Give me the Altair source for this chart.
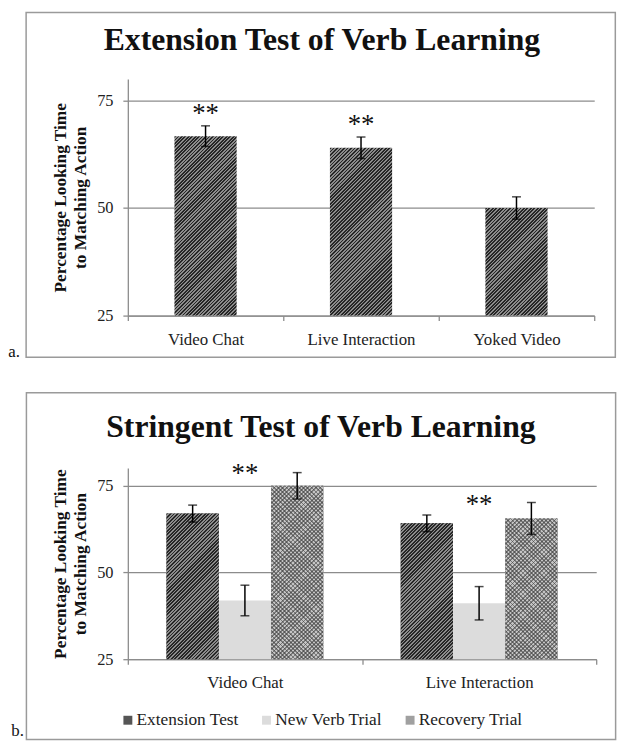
import math
import altair as alt
import pandas as pd

FONT = "Liberation Serif"
GRID = "#8c8c8c"
FRAME = "#9a9a9a"

# ---------------- data ----------------
a_categories = ["Video Chat", "Live Interaction", "Yoked Video"]
a_means = [66.7, 64.0, 50.0]
a_err = [2.4, 2.5, 2.6]
a_stars = ["**", "**", ""]
a_star_pos = [73.2, 70.6, 50.0]

b_categories = ["Video Chat", "Live Interaction"]
b_trials = ["Extension Test", "New Verb Trial", "Recovery Trial"]
b_ext_means = [66.9, 64.1]
b_ext_err = [2.45, 2.4]
b_new_means = [41.9, 41.1]
b_new_err = [4.4, 4.8]
b_rec_means = [74.9, 65.5]
b_rec_err = [3.8, 4.6]
b_stars = ["**", "**"]
b_star_pos = [80.0, 71.1]

y_ticks = [25, 50, 75]
y_domain = [25, 80]
trial_colors = ["#555555", "#dcdcdc", "#a0a0a0"]

title_a = "Extension Test of Verb Learning"
title_b = "Stringent Test of Verb Learning"
y_title = ["Percentage Looking Time", "to Matching Action"]

# ---------------- layout constants ----------------
WA, HA = 471, 239
WB, HB = 473, 193
BAND_A = 0.4
OFFSET_PAD = 0.74

# ---------------- tables ----------------
df_a = pd.DataFrame({"cond": a_categories, "mean": a_means, "err": a_err})
df_a["lo"] = df_a["mean"] - df_a["err"]
df_a["hi"] = df_a["mean"] + df_a["err"]
stars_a = pd.DataFrame({"cond": a_categories, "star": a_stars, "pos": a_star_pos})
stars_a = stars_a[stars_a["star"] != ""]

rows = []
for trial, means, errs in zip(b_trials, [b_ext_means, b_new_means, b_rec_means],
                              [b_ext_err, b_new_err, b_rec_err]):
    for c, m, e in zip(b_categories, means, errs):
        rows.append({"cond": c, "trial": trial, "mean": m, "err": e, "lo": m - e, "hi": m + e})
df_b = pd.DataFrame(rows)
stars_b = pd.DataFrame({"cond": b_categories, "trial": [b_trials[1]] * 2,
                        "star": b_stars, "pos": b_star_pos})
one = pd.DataFrame({"k": [0]})


def hatch(w, h, c1, c2, lean="/", period=3.5, duty=0.5):
    """Diagonal stripe fill at 45 degrees for a bar of w x h pixels."""
    r = h / w
    k = (1 + r) / (1 + r * r)
    if lean == "/":
        x1, y1, x2, y2 = 0, 0, k, k * r
    else:
        x1, y1, x2, y2 = 1, 0, 1 - k, k * r
    n = max(1, int(round((w + h) / period)))
    stops = []
    for i in range(n):
        t0, tm, t1 = i / n, (i + duty) / n, (i + 1) / n
        stops += [
            alt.GradientStop(offset=round(t0, 5), color=c1),
            alt.GradientStop(offset=round(tm, 5), color=c1),
            alt.GradientStop(offset=round(tm, 5), color=c2),
            alt.GradientStop(offset=round(t1, 5), color=c2),
        ]
    return alt.LinearGradient(gradient="linear", stops=stops, x1=x1, y1=y1, x2=x2, y2=y2)


def y_enc(field):
    return alt.Y(
        f"{field}:Q",
        scale=alt.Scale(domain=y_domain, nice=False, zero=False),
        axis=alt.Axis(
            values=y_ticks, title=y_title, titleFont=FONT, titleFontSize=17.5,
            titleFontWeight="bold", titleLineHeight=20, titlePadding=7, titleColor="#111",
            labelFont=FONT, labelFontSize=16.5, labelPadding=10, labelColor="#222",
            tickSize=5, tickColor=GRID, tickWidth=1.3, domainColor=GRID, domainWidth=1.3,
            grid=True, gridColor=GRID, gridWidth=1.3,
        ),
    )


def x_enc(domain):
    return alt.X(
        "cond:N",
        sort=domain,
        scale=alt.Scale(domain=domain, paddingInner=0, paddingOuter=0),
        axis=alt.Axis(
            title=None, labelAngle=0, labelFont=FONT, labelFontSize=17, labelColor="#222",
            labelPadding=11, tickSize=5, tickColor=GRID, tickWidth=1.3, tickBand="extent",
            domainColor=GRID, domainWidth=1.3, grid=False,
        ),
    )


def decorations(title, tx, ty, label, lx, ly, box):
    frame = alt.Chart(one).mark_rect(fillOpacity=0, stroke=FRAME, strokeWidth=1.5).encode(
        x=alt.value(box[0]), x2=alt.value(box[1]), y=alt.value(box[2]), y2=alt.value(box[3])
    )
    ttl = alt.Chart(one).mark_text(
        text=title, font=FONT, fontSize=32, fontWeight="bold", align="center",
        baseline="alphabetic", color="#111",
    ).encode(x=alt.value(tx), y=alt.value(ty))
    lab = alt.Chart(one).mark_text(
        text=label, font=FONT, fontSize=17, align="left", baseline="alphabetic", color="#111",
    ).encode(x=alt.value(lx), y=alt.value(ly))
    return [frame, ttl, lab]


def error_layers(df, x, extra):
    rule = alt.Chart(df).mark_rule(color="#000", strokeWidth=1.5).encode(
        x=x, y=y_enc("lo"), y2="hi:Q", **extra
    )
    lo = alt.Chart(df).mark_tick(orient="horizontal", size=9, thickness=1.5, color="#000").encode(
        x=x, y=y_enc("lo"), **extra
    )
    hi = alt.Chart(df).mark_tick(orient="horizontal", size=9, thickness=1.5, color="#000").encode(
        x=x, y=y_enc("hi"), **extra
    )
    return [rule, lo, hi]


# ---------------- panel a ----------------
xa = x_enc(a_categories)
px_a = HA / (y_domain[1] - y_domain[0])
bar_w_a = BAND_A * WA / len(a_categories)
hatch_a = []
for c, m in zip(a_categories, a_means):
    g = hatch(bar_w_a, (m - y_domain[0]) * px_a, "#262626", "#8c8c8c", "/")
    hatch_a.append(
        alt.Chart(df_a[df_a["cond"] == c]).mark_bar(width=alt.RelativeBandSize(BAND_A), fill=g).encode(
            x=xa, y=y_enc("mean"), y2=alt.datum(25)
        )
    )
star_a = alt.Chart(stars_a).mark_text(font=FONT, fontSize=27, baseline="middle", dy=6, color="#111").encode(
    x=xa, y=y_enc("pos"), text="star:N"
)
panel_a = alt.layer(
    *decorations(title_a, 196, -29, "a.", -120.7, 281, [-102.7, 492.3, -67, 281]),
    *hatch_a, *error_layers(df_a, xa, {}), star_a,
).properties(width=WA, height=HA)

# ---------------- panel b ----------------
xb = x_enc(b_categories)
xoff = alt.XOffset("trial:N", sort=b_trials,
                   scale=alt.Scale(domain=b_trials, paddingInner=0, paddingOuter=OFFSET_PAD))
bars_b = alt.Chart(df_b).mark_bar().encode(
    x=xb, xOffset=xoff, y=y_enc("mean"), y2=alt.datum(25),
    color=alt.Color(
        "trial:N", sort=b_trials,
        scale=alt.Scale(domain=b_trials, range=trial_colors),
        legend=alt.Legend(
            title=None, orient="none", direction="horizontal", legendX=-8.7, legendY=245.5,
            symbolType="square", symbolSize=81, symbolStrokeWidth=0, labelFont=FONT,
            labelFontSize=17.5, labelColor="#222", labelOffset=0, columnPadding=19, padding=0,
        ),
    ),
)
px_b = HB / (y_domain[1] - y_domain[0])
bar_w_b = WB / len(b_categories) / (len(b_trials) + 2 * OFFSET_PAD)
hatch_b = []
for _, row in df_b.iterrows():
    h = (row["mean"] - y_domain[0]) * px_b
    sub = df_b[(df_b["cond"] == row["cond"]) & (df_b["trial"] == row["trial"])]
    if row["trial"] == b_trials[0]:
        fills = [hatch(bar_w_b, h, "#262626", "#8c8c8c", "/")]
    elif row["trial"] == b_trials[2]:
        fills = [
            "#c4c4c4",
            hatch(bar_w_b, h, "rgba(60,60,60,0.55)", "rgba(0,0,0,0)", "/", period=4.2, duty=0.45),
            hatch(bar_w_b, h, "rgba(60,60,60,0.55)", "rgba(0,0,0,0)", "\\", period=4.2, duty=0.45),
        ]
    else:
        continue
    for g in fills:
        hatch_b.append(
            alt.Chart(sub).mark_bar(fill=g).encode(
                x=xb, xOffset=xoff, y=y_enc("mean"), y2=alt.datum(25)
            )
        )
star_b = alt.Chart(stars_b).mark_text(font=FONT, fontSize=27, baseline="middle", dy=6, color="#111").encode(
    x=xb, xOffset=xoff, y=y_enc("pos"), text="star:N"
)
panel_b = alt.layer(
    *decorations(title_b, 195, -31, "b.", -117.7, 271, [-102.4, 492.6, -76, 274]),
    bars_b, *hatch_b, *error_layers(df_b, xb, {"xOffset": xoff}), star_b,
).properties(width=WB, height=HB)

chart = (
    alt.vconcat(panel_a, panel_b, spacing=32)
    .resolve_scale(color="independent")
    .resolve_legend(color="independent")
    .properties(padding=0)
    .configure_view(stroke=None)
)
chart.save("out.html", embed_options={"renderer": "svg", "actions": False})
